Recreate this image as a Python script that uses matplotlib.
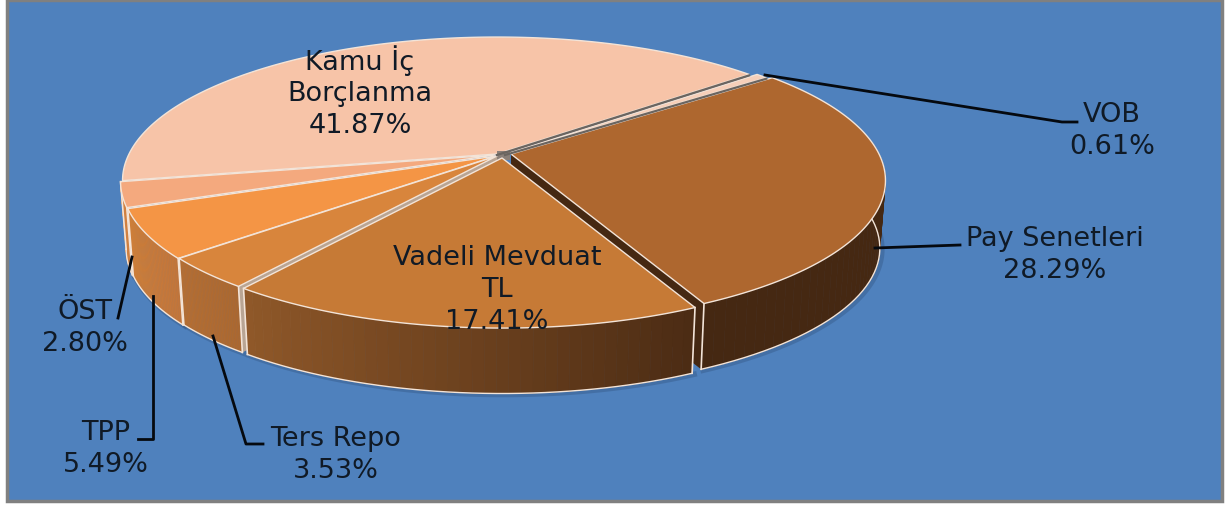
import numpy as np
import matplotlib
matplotlib.use('Agg')
import matplotlib.pyplot as plt
from matplotlib.patches import Polygon, Rectangle
from matplotlib.colors import to_rgb

# pie data, in the order the slices run clockwise
names = ['Kamu İç\nBorçlanma', 'VOB', 'Pay Senetleri', 'Vadeli Mevduat\nTL', 'Ters Repo', 'TPP', 'ÖST']
shares = [41.87, 0.61, 28.29, 17.41, 3.53, 5.49, 2.80]

top_col = ['#f7c4a8', '#f6cfb9', '#ae672f', '#c67a36', '#d8853c', '#f49545', '#f4a97e']
side_a = ['#f7c4a8', '#f6cfb9', '#452812', '#8f5829', '#b66e32', '#d07f39', '#d08040']
side_b = ['#f7c4a8', '#f6cfb9', '#452812', '#4c2c14', '#ab6830', '#c2753a', '#d08040']
apex = [(497, 155), (505, 155), (511, 155), (502, 159), (497, 157), (496, 157), (495, 156)]
label_pos = [(360, 92), (1112, 131), (1055, 255), (497, 290), (336, 455), (106, 449), (85, 328)]
leaders = [None,
           [(765, 76), (1062, 123), (1077, 123)],
           [(875, 249), (960, 246)],
           None,
           [(213, 337), (246, 445), (263, 445)],
           [(153, 297), (153, 440), (138, 440)],
           [(132, 258), (118, 319)]]

start = 190.7   # where the first slice begins, degrees on the disc
R, a, k = 368, 138.6, 0.185
depth = 68
edge = '#f3e4d8'
gap_col = '#b9a594'


def rim(theta, c, low=False):
    # perspective view of the disc: far side is squeezed, near side stretched
    t = np.radians(theta)
    s = 1 / (1 + k * np.sin(t))
    f = 0.985 if low else 1.0
    return c[0] + f * R * np.cos(t) * s, c[1] + (depth if low else 0) - f * a * np.sin(t) * s


fig = plt.figure(figsize=(12.29, 5.06), dpi=100, facecolor='white')
ax = fig.add_axes([0, 0, 1, 1])
ax.set_xlim(0, 1229)
ax.set_ylim(506, 0)
ax.axis('off')
ax.add_patch(Rectangle((7, 1), 1215, 501, fc='#4f81bd', ec='#808080', lw=2.5, zorder=0))

ends = start - np.cumsum(shares) * 3.6
begins = np.r_[start, ends[:-1]]

# soft shadow under the outer side
for i in range(2, 7):
    lo, hi = min(begins[i], ends[i]), max(begins[i], ends[i])
    if i == 2:
        hi = lo + 70
    xs, ys = rim(np.linspace(lo, hi, 60), apex[i], True)
    ax.plot(xs + 2, ys + 1, color='#2f4f7a', alpha=0.35, lw=4, zorder=0.5)

# back to front
order = [0, 1, 2, 6, 5, 4, 3]
for z, i in enumerate(order):
    z = z + 1
    th0, th1 = begins[i], ends[i]
    c = apex[i]
    # radial walls, these only show through the gaps
    if i <= 2:
        x0, y0 = rim(th1, c)
        x1, y1 = rim(th1, c, True)
        if i == 2:
            ax.add_patch(Polygon([c, (x0, y0), (x1, y1), (c[0], c[1] + depth)], fc='#452812', ec='none', zorder=z))
        else:
            ax.plot([c[0], x0], [c[1] + 1, y0 + 1], color='#6b6560', lw=1.6, zorder=15)
    if i == 4:
        x0, y0 = rim(th0, c)
        x1, y1 = rim(th0, c, True)
        ax.add_patch(Polygon([c, (x0, y0), (x1, y1), (c[0], c[1] + depth)], fc=gap_col, ec='none', zorder=z))
    if i == 3:
        # light strip between the two big slices on the outer side
        q = apex[2]
        ax.add_patch(Polygon([rim(th1, c), rim(th1, q), rim(th1, q, True), rim(th1, c, True)],
                             fc=gap_col, ec='none', zorder=z))
    # outer side, cut up in small strips for the gradient
    if i >= 2:
        lo, hi = min(th0, th1), max(th0, th1)
        if i == 2:
            hi = lo + 70
        steps = np.linspace(lo, hi, 41)
        ca, cb = np.array(to_rgb(side_a[i])), np.array(to_rgb(side_b[i]))
        for j in range(40):
            col = ca + (cb - ca) * j / 39
            xa, ya = rim(steps[j], c)
            xb, yb = rim(steps[j + 1], c)
            xc, yc = rim(steps[j + 1], c, True)
            xd, yd = rim(steps[j], c, True)
            ax.add_patch(Polygon([(xa, ya), (xb, yb), (xc, yc), (xd, yd)], fc=col, ec=col, lw=0.4, zorder=z))
        xs, ys = rim(steps, c, True)
        ax.plot(xs, ys, color=edge, lw=1, zorder=z)
        xu, yu = rim(lo, c)
        xl, yl = rim(lo, c, True)
        ax.plot([xu, xl], [yu, yl], color=edge, lw=1.2, zorder=z)
        if i != 2:
            xu, yu = rim(hi, c)
            xl, yl = rim(hi, c, True)
            ax.plot([xu, xl], [yu, yl], color=edge, lw=1.2, zorder=z)
    # top face
    arc = np.linspace(th0, th1, 200)
    xs, ys = rim(arc, c)
    ax.add_patch(Polygon(np.c_[np.r_[c[0], xs], np.r_[c[1], ys]], fc=top_col[i], ec=edge, lw=1,
                         joinstyle='round', zorder=z))
    if i == 2:
        # centre of the pie where the slices pull apart
        ax.add_patch(Rectangle((497, 152), 13, 9, fc='#8a7f78', ec='none', zorder=z))

for i, pts in enumerate(leaders):
    if pts is not None:
        ax.plot([p[0] for p in pts], [p[1] for p in pts], color='#05090f', lw=2, solid_joinstyle='round', zorder=20)

for i, n in enumerate(names):
    ax.text(label_pos[i][0], label_pos[i][1], '%s\n%.2f%%' % (n, shares[i]), ha='center', va='center',
            fontsize=19.5, color='#101a26', linespacing=1.28, family='DejaVu Sans', zorder=30)

fig.savefig('out.png', dpi=100)
